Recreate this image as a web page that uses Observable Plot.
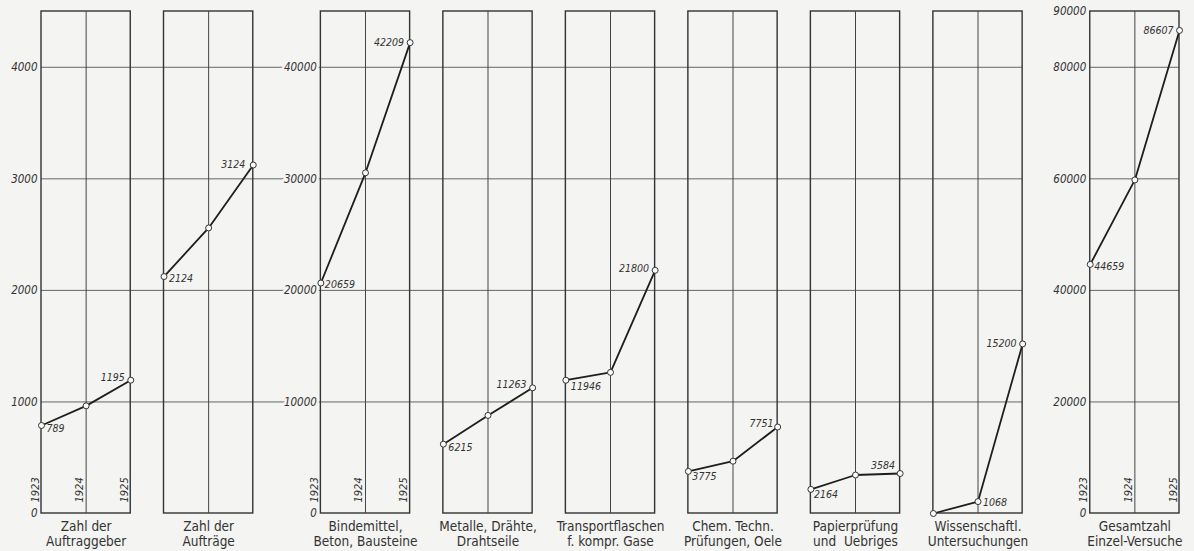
<!DOCTYPE html>
<html><head><meta charset="utf-8">
<script src="https://cdn.jsdelivr.net/npm/d3@7"></script>
<script src="https://cdn.jsdelivr.net/npm/@observablehq/plot@0.6"></script>
<style>
html,body{margin:0;padding:0;background:#f4f4f2;}
#chart{width:1194px;height:551px;overflow:hidden;}
</style></head><body><div id="chart"></div>
<script>
// ---- data ----
const years = [1923, 1924, 1925];
const categories = [
  "Zahl der\nAuftraggeber",
  "Zahl der\nAufträge",
  "Bindemittel,\nBeton, Bausteine",
  "Metalle, Drähte,\nDrahtseile",
  "Transportflaschen\nf. kompr. Gase",
  "Chem. Techn.\nPrüfungen, Oele",
  "Papierprüfung\nund  Uebriges",
  "Wissenschaftl.\nUntersuchungen",
  "Gesamtzahl\nEinzel-Versuche"
];
const auftraggeber   = [789, 965, 1195];
const auftraege      = [2124, 2560, 3124];
const bindemittel    = [20659, 30540, 42209];
const metalle        = [6215, 8790, 11263];
const transport      = [11946, 12650, 21800];
const chemTechn      = [3775, 4690, 7751];
const papier         = [2164, 3450, 3584];
const wissenschaft   = [0, 1068, 15200];
const gesamt         = [44659, 59800, 86607];
const seriesValues = [auftraggeber, auftraege, bindemittel, metalle, transport, chemTechn, papier, wissenschaft, gesamt];
// which years of each panel carry a printed value
const labelledYears = [[1923,1925],[1923,1925],[1923,1925],[1923,1925],[1923,1925],[1923,1925],[1923,1925],[1924,1925],[1923,1925]];
// scale groups
const scaleGroup = ["A","A","B","B","B","B","B","B","C"];
const ticksA = [0, 1000, 2000, 3000, 4000];
const ticksB = [0, 10000, 20000, 30000, 40000];
const ticksC = [0, 20000, 40000, 60000, 80000, 90000];
const yearTickPanels = [0, 2, 8];

// ---- layout (code) ----
const factor = {A: 1, B: 10, C: 20};
const step = 2.745, extra = 0.77;
let acc = 0;
const slot = categories.map((c, i) => {
  if (i > 0) { acc += step; if (scaleGroup[i] !== scaleGroup[i-1]) acc += extra; }
  return acc;
});
const xEnd = slot[slot.length-1] + 2;
const topVal = 4500;

const points = [];
seriesValues.forEach((vals, i) => {
  vals.forEach((v, j) => points.push({panel: i, year: years[j], x: slot[i] + j, y: v / factor[scaleGroup[i]], v}));
});
const lines = seriesValues.map((vals, i) => vals.map((v, j) => ({panel: i, x: slot[i] + j, y: v / factor[scaleGroup[i]]})));

const labelRows = [];
points.forEach(p => {
  const ly = labelledYears[p.panel];
  if (ly.includes(p.year)) labelRows.push({...p, last: p.year === ly[ly.length - 1]});
});
const firstLabels = labelRows.filter(d => !d.last);
const lastLabels = labelRows.filter(d => d.last);
// pixel nudges of printed values
const nudge = {
  "0-1923": [5, 3], "0-1925": [-6, -3],
  "1-1923": [5, 2], "1-1925": [-8, 0],
  "2-1923": [4, 2], "2-1925": [-6, 0],
  "3-1923": [5, 3], "3-1925": [-6, -3],
  "4-1923": [5, 6], "4-1925": [-6, -2],
  "5-1923": [4, 5], "5-1925": [-4, -3],
  "6-1923": [3, 5], "6-1925": [-5, -8],
  "7-1924": [5, 1], "7-1925": [-6, 0],
  "8-1923": [4, 2], "8-1925": [-6, 0]
};
const nudgeRender = rows => (index, scales, values, dims, context, next) => {
  const g = next(index, scales, values, dims, context);
  d3.select(g).selectAll("text").each(function(i) {
    const d = rows[i];
    const a = nudge[d.panel + "-" + d.year] || [0, 0];
    const t = d3.select(this);
    t.attr("transform", (t.attr("transform") || "") + ` translate(${a[0]},${a[1]})`);
  });
  return g;
};

const tickRows = [];
[["A", ticksA], ["B", ticksB], ["C", ticksC]].forEach(([g, ticks]) => {
  const first = scaleGroup.indexOf(g);
  ticks.forEach(t => tickRows.push({x: slot[first], y: t / factor[g], label: String(t)}));
});
const gridVals = ticksA.filter(t => t > 0);
const gridRows = [];
gridVals.forEach(v => {
  gridRows.push({x1: slot[0], x2: slot[7] + 2, y: v});
  gridRows.push({x1: slot[8], x2: slot[8] + 2, y: v});
});
const yearRows = [];
yearTickPanels.forEach(i => years.forEach((yr, j) => yearRows.push({x: slot[i] + j, label: String(yr)})));
const frames = categories.map((c, i) => ({x1: slot[i], x2: slot[i] + 2, mid: slot[i] + 1, cx: slot[i] + 1, title: c}));

const bg = "#f4f4f2";
const font = "'DejaVu Sans Condensed', 'Liberation Sans Narrow', 'DejaVu Sans', sans-serif";
const labelStyle = {fontSize: 10.5, fontStyle: "italic", fill: "#333"};

const chart = Plot.plot({
  width: 1194, height: 551,
  marginTop: 11, marginBottom: 38, marginLeft: 41, marginRight: 15,
  x: {domain: [0, xEnd], axis: null},
  y: {domain: [0, topVal], axis: null},
  style: {background: "transparent", fontFamily: font, color: "#333"},
  marks: [
    Plot.ruleY(gridRows, {x1: "x1", x2: "x2", y: "y", stroke: "#555", strokeWidth: 0.9}),
    Plot.rect(frames, {x1: "x1", x2: "x2", y1: 0, y2: topVal, fill: "none", stroke: "#333", strokeWidth: 1.4}),
    Plot.ruleX(frames, {x: "mid", y1: 0, y2: topVal, stroke: "#444", strokeWidth: 1}),
    Plot.text(tickRows, {x: "x", y: "y", text: "label", dx: -4, textAnchor: "end", fontSize: 11.5, fontStyle: "italic",
      fill: "#333", stroke: bg, strokeWidth: 5, paintOrder: "stroke"}),
    ...lines.map(l => Plot.line(l, {x: "x", y: "y", stroke: "#1e1e1e", strokeWidth: 1.8})),
    Plot.dot(points, {x: "x", y: "y", r: 3, fill: "#fafafa", stroke: "#333", strokeWidth: 1}),
    Plot.text(firstLabels, {x: "x", y: "y", text: d => String(d.v), textAnchor: "start", ...labelStyle, render: nudgeRender(firstLabels)}),
    Plot.text(lastLabels, {x: "x", y: "y", text: d => String(d.v), textAnchor: "end", ...labelStyle, render: nudgeRender(lastLabels)}),
    Plot.text(yearRows, {x: "x", y: 0, text: "label", rotate: -90, textAnchor: "start", lineAnchor: "bottom",
      dx: -3, dy: -11, fontSize: 11, fontStyle: "italic", fill: "#333"}),
    Plot.text(frames, {x: "cx", y: 0, text: "title", lineAnchor: "top", dy: 6, fontSize: 13.5, lineHeight: 1.15, fill: "#333"})
  ]
});
document.getElementById("chart").appendChild(chart);
</script>
</body></html>
